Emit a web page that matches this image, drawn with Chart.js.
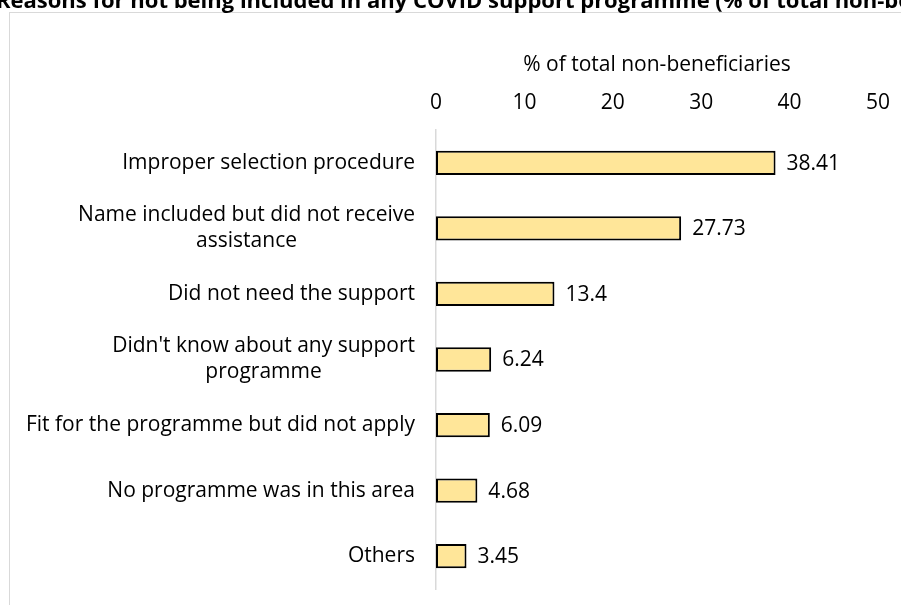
<!DOCTYPE html>
<html>
<head>
<meta charset="utf-8">
<script src="https://cdn.jsdelivr.net/npm/chart.js@4.4.1/dist/chart.umd.min.js"></script>
<style>
	html, body { margin: 0; padding: 0; background: #fff; }
	#wrap { width: 901px; height: 605px; }
</style>
</head>
<body>
<div id="wrap"><canvas id="myChart"></canvas></div>
<script>
// Datos del grafico
const categorias = [
	["Improper selection procedure"],
	["Name included but did not receive", "assistance"],
	["Did not need the support"],
	["Didn't know about any support", "programme"],
	["Fit for the programme but did not apply"],
	["No programme was in this area"],
	["Others"],
];
const valores = [38.41, 27.73, 13.4, 6.24, 6.09, 4.68, 3.45];
const ticks_x = [0, 10, 20, 30, 40, 50];
const titulo = "Reasons for not being included in any COVID support programme (% of total non-beneficiaries)";
const titulo_eje = "% of total non-beneficiaries";

const fuente = "'Open Sans', 'Noto Sans', sans-serif";
const tam = 21;

// Titulo, marco, etiquetas de categoria y valores
const extras = {
	id: "extras",
	beforeDraw(chart) {
		const c = chart.ctx;
		c.save();
		c.strokeStyle = "#d9d9d9";
		c.lineWidth = 1;
		c.strokeRect(9.5, 12.5, 1200, 1200);
		c.restore();
	},
	afterDraw(chart) {
		const c = chart.ctx;
		const y = chart.scales.y;
		c.save();
		c.fillStyle = "#000";
		c.font = "bold 22px " + fuente;
		c.textAlign = "left";
		c.textBaseline = "alphabetic";
		c.fillText(titulo, -4, 8);

		c.font = tam + "px " + fuente;
		c.textBaseline = "middle";
		const lineH = 26;
		categorias.forEach((lineas, i) => {
			const yc = y.getPixelForValue(i);
			const ancho = Math.max(...lineas.map((l) => c.measureText(l).width));
			const xc = 415 - ancho / 2;
			c.textAlign = "center";
			lineas.forEach((l, k) => {
				c.fillText(l, xc, yc + (k - (lineas.length - 1) / 2) * lineH);
			});
		});

		const meta = chart.getDatasetMeta(0);
		c.textAlign = "left";
		meta.data.forEach((bar, i) => {
			c.fillText(String(valores[i]), bar.x + 11, bar.y + 1);
		});
		c.restore();
	},
};

const ctx = document.getElementById("myChart").getContext("2d");
let myChart = new Chart(ctx, {
	type: "bar",
	data: {
		labels: categorias,
		datasets: [
			{
				data: valores,
				backgroundColor: "#ffe699",
				borderColor: "#000",
				borderWidth: 2,
				borderSkipped: false,
				categoryPercentage: 1,
				barPercentage: 0.37,
			},
		],
	},
	options: {
		indexAxis: "y",
		responsive: true,
		maintainAspectRatio: false,
		animation: false,
		layout: { padding: { top: 0, right: 23, bottom: 16, left: 0 } },
		plugins: {
			legend: { display: false },
			tooltip: { enabled: false },
		},
		scales: {
			x: {
				position: "top",
				min: 0,
				max: 50,
				afterBuildTicks: (s) => {
					s.ticks = ticks_x.map((v) => ({ value: v }));
				},
				afterFit: (s) => {
					s.height = 130;
				},
				grid: { display: false },
				border: { display: false },
				ticks: {
					color: "#000",
					font: { family: fuente, size: tam },
					padding: 6,
				},
				title: {
					display: true,
					text: titulo_eje,
					color: "#000",
					font: { family: fuente, size: tam },
					padding: { top: 52, bottom: 4 },
				},
			},
			y: {
				afterFit: (s) => {
					s.width = 436;
				},
				grid: { display: false, drawTicks: false },
				border: { display: true, color: "#d9d9d9", width: 1.5 },
				ticks: { display: false },
			},
		},
	},
	plugins: [extras],
});
</script>
</body>
</html>
